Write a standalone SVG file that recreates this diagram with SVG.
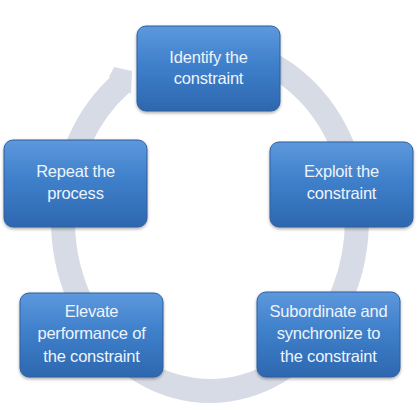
<svg xmlns="http://www.w3.org/2000/svg" width="418" height="410" viewBox="0 0 418 410">
<defs>
<linearGradient id="boxg" x1="0" y1="0" x2="0" y2="1">
<stop offset="0" stop-color="#5d98dc"/>
<stop offset="0.45" stop-color="#3f80cb"/>
<stop offset="1" stop-color="#2d67af"/>
</linearGradient>
<filter id="sh" x="-10%" y="-10%" width="120%" height="125%">
<feDropShadow dx="0" dy="1.5" stdDeviation="1.5" flood-color="#000" flood-opacity="0.35"/>
</filter>
<style>
.box{fill:url(#boxg);stroke:#2e5f9e;stroke-width:1;filter:url(#sh)}
.lbl{font-family:"Liberation Sans",Arial,sans-serif;font-size:16.5px;fill:#eef4fb;text-anchor:middle;letter-spacing:-0.2px}
.ring{fill:none;stroke:#d6dbe6;stroke-width:24;stroke-linecap:butt}
.head{fill:#d6dbe6}
</style>
</defs>
<rect width="418" height="410" fill="#ffffff"/>
<g id="connectors">
<path class="ring" d="M235.5,51.6 A147,171 0 1 1 121.5,83.4"/>
<polygon class="head" points="109,77 114,67 132,71 131,94"/>
</g>
<g id="identify">
<rect class="box" x="137" y="26" width="143" height="85" rx="9"/>
<text class="lbl" x="208.5" y="63">Identify the</text>
<text class="lbl" x="208.5" y="84">constraint</text>
</g>
<g id="exploit">
<rect class="box" x="270" y="142" width="143" height="85" rx="9"/>
<text class="lbl" x="341.5" y="177">Exploit the</text>
<text class="lbl" x="341.5" y="199">constraint</text>
</g>
<g id="subordinate">
<rect class="box" x="257" y="292" width="143" height="85" rx="9"/>
<text class="lbl" x="328.5" y="317">Subordinate and</text>
<text class="lbl" x="328.5" y="339">synchronize to</text>
<text class="lbl" x="328.5" y="362">the constraint</text>
</g>
<g id="elevate">
<rect class="box" x="20" y="293" width="143" height="84" rx="9"/>
<text class="lbl" x="91.5" y="317">Elevate</text>
<text class="lbl" x="91.5" y="339">performance of</text>
<text class="lbl" x="91.5" y="362">the constraint</text>
</g>
<g id="repeat">
<rect class="box" x="4" y="140" width="143" height="87" rx="9"/>
<text class="lbl" x="75.5" y="177">Repeat the</text>
<text class="lbl" x="75.5" y="199">process</text>
</g>
</svg>
